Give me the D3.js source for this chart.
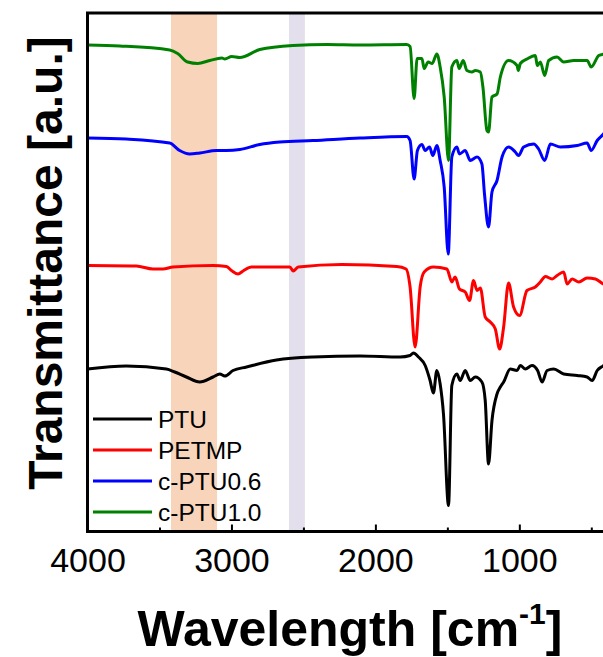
<!DOCTYPE html>
<html><head><meta charset="utf-8">
<script src="https://cdn.jsdelivr.net/npm/d3@7"></script>
<style>body{margin:0;background:#fff}svg{display:block}</style>
</head><body>
<script>
// ---- data (wavenumber in cm^-1, transmittance in a.u.) ----
const seriesNames = ["PTU", "PETMP", "c-PTU0.6", "c-PTU1.0"];
const seriesColors = ["#000000", "#ff0000", "#0000ff", "#008000"];

const ptuWave = [4000,3731,3452,3394,3313,3220,3128,3081,3046,2989,2895,2687,2432,2107,1828,1759,1736,1701,1654,1620,1597,1573,1550,1527,1492,1469,1434,1411,1376,1341,1306,1260,1237,1214,1190,1155,1132,1109,1063,1016,993,958,912,873,842,807,761,692,598,529,494,459,415,400];
const ptuT    = [32.5,33.1,32.5,31.9,30.9,29.9,30.9,31.5,31.1,32.2,32.9,34.3,34.9,35.1,34.9,35.2,35.7,34.9,33.2,30.2,27.7,32.2,29.5,23.5,5.2,29.2,31.5,30.2,32.2,30.2,30.9,29.9,26.2,13.5,22.2,27.5,28.9,29.9,32.5,32.2,33.2,32.5,33.2,32.2,29.9,32.2,32.5,31.5,31.2,30.9,30.2,32.2,33.2,33.6];

const petmpWave = [4000,3661,3545,3476,3406,3128,3035,3000,2954,2919,2861,2594,2571,2536,2234,1851,1787,1759,1724,1689,1661,1597,1503,1469,1446,1416,1376,1346,1318,1294,1271,1237,1202,1167,1137,1109,1075,1040,998,947,889,854,819,772,738,692,668,633,587,529,471,415,400];
const petmpT    = [53.2,53.1,52.5,52.5,52.9,53.2,53.0,52.2,51.5,52.1,52.9,52.9,52.1,52.9,53.4,53.0,52.5,48.9,36.9,48.9,51.9,52.9,52.5,49.9,50.9,48.5,47.9,46.2,50.2,48.2,48.7,42.9,41.9,40.5,36.5,40.9,49.7,44.9,43.2,48.2,48.9,49.9,51.0,50.5,51.2,51.9,49.5,50.5,49.9,50.7,50.5,49.5,49.4];

const cptu06Wave = [4000,3731,3429,3360,3290,3220,3104,3035,2942,2803,2664,2434,2107,1782,1759,1731,1708,1677,1654,1624,1601,1573,1550,1522,1494,1469,1434,1416,1376,1341,1294,1260,1242,1214,1190,1155,1120,1075,1028,1005,970,900,866,824,784,715,598,529,501,459,415,400];
const cptu06T    = [78.7,78.5,77.7,76.2,75.5,75.7,76.2,76.2,76.4,77.4,77.9,78.2,78.7,79.0,78.2,70.5,76.2,77.4,76.2,76.9,75.2,77.2,74.2,68.9,55.5,74.9,76.9,75.5,76.2,74.2,74.9,73.5,67.5,60.9,67.9,70.2,74.9,76.9,75.9,75.2,76.9,77.5,76.5,74.2,77.5,76.9,77.2,77.7,76.2,78.2,79.5,80.0];

const cptu10Wave = [4000,3777,3429,3374,3304,3234,3151,3067,3046,2998,2942,2803,2573,2336,2107,1782,1759,1731,1710,1677,1661,1633,1606,1573,1550,1522,1492,1469,1434,1418,1390,1364,1329,1306,1271,1253,1225,1214,1190,1155,1132,1075,1016,1007,993,947,889,875,854,824,796,738,692,622,529,501,448,415,400];
const cptu10T    = [97.3,97.1,96.3,95.6,93.9,93.6,94.2,94.7,94.5,95.0,94.8,96.4,97.2,97.4,97.3,97.4,97.0,86.6,94.6,94.6,92.6,93.9,93.6,95.5,92.9,86.9,74.2,92.9,94.2,92.6,94.2,92.2,91.9,92.2,91.9,88.9,80.2,79.9,86.9,87.5,90.9,94.2,93.2,92.2,93.6,94.5,95.2,93.2,93.9,91.2,94.2,94.9,93.9,94.2,94.2,92.9,95.2,95.5,95.8];

const highlightBands = [[3420, 3100, "#f7d4ba"], [2600, 2490, "#e3dfec"]];
const xTicksMajor = [4000, 3000, 2000, 1000];
const xTicksMinor = [3500, 2500, 1500, 500];
const xDomain = [4000, 400];
const yDomain = [0, 103.7];

// ---- drawing ----
const W = 603, H = 657;
const svg = d3.select("body").append("svg").attr("width", W).attr("height", H);
const x = d3.scaleLinear().domain(xDomain).range([87.5, 605.7]);
const y = d3.scaleLinear().domain(yDomain).range([531.5, 13]);
const font = "Arial, 'Liberation Sans', Helvetica, sans-serif";

// bands
svg.selectAll("rect.band").data(highlightBands).enter().append("rect")
  .attr("x", d => x(d[0])).attr("width", d => x(d[1]) - x(d[0]))
  .attr("y", y(yDomain[1])).attr("height", y(yDomain[0]) - y(yDomain[1]))
  .attr("fill", d => d[2]);

// lines
const series = [
  {w: ptuWave, t: ptuT}, {w: petmpWave, t: petmpT},
  {w: cptu06Wave, t: cptu06T}, {w: cptu10Wave, t: cptu10T}
];
const line = d3.line().x(d => x(d[0])).y(d => y(d[1])).curve(d3.curveMonotoneX);
svg.append("clipPath").attr("id", "clip").append("rect")
  .attr("x", x(4000)).attr("y", y(yDomain[1])).attr("width", x(400) - x(4000)).attr("height", y(0) - y(yDomain[1]));
series.forEach((s, i) => {
  svg.append("path").datum(s.w.map((w, k) => [w, s.t[k]]))
    .attr("d", line).attr("fill", "none").attr("stroke", seriesColors[i])
    .attr("stroke-width", 3).attr("stroke-linejoin", "round")
    .attr("clip-path", "url(#clip)");
});

// frame
svg.append("rect").attr("x", x(4000)).attr("y", y(yDomain[1]))
  .attr("width", x(400) - x(4000)).attr("height", y(0) - y(yDomain[1]))
  .attr("fill", "none").attr("stroke", "#000").attr("stroke-width", 3);

// x axis ticks (inward)
const xAxis = d3.axisBottom(x).tickValues(xTicksMajor).tickSize(-7).tickPadding(16).tickFormat(d3.format("d"));
const gx = svg.append("g").attr("transform", `translate(0,${y(0)})`).call(xAxis);
gx.select(".domain").remove();
gx.selectAll(".tick line").attr("stroke", "#000").attr("stroke-width", 2);
gx.selectAll(".tick text").attr("font-family", font).attr("font-size", 34).attr("fill", "#000");
const xAxisMinor = d3.axisBottom(x).tickValues(xTicksMinor).tickSize(-4).tickFormat("");
const gxm = svg.append("g").attr("transform", `translate(0,${y(0)})`).call(xAxisMinor);
gxm.select(".domain").remove();
gxm.selectAll(".tick line").attr("stroke", "#000").attr("stroke-width", 2);

// axis titles
const xt = svg.append("text").attr("x", 350).attr("y", 646).attr("text-anchor", "middle")
  .attr("font-family", font).attr("font-weight", "bold").attr("font-size", 50).attr("fill", "#000");
xt.append("tspan").text("Wavelength [cm");
xt.append("tspan").attr("font-size", 30).attr("dy", -22).text("-1");
xt.append("tspan").attr("dy", 22).text("]");

svg.append("text").attr("transform", "translate(62,263) rotate(-90)").attr("text-anchor", "middle")
  .attr("font-family", font).attr("font-weight", "bold").attr("font-size", 48).attr("fill", "#000")
  .text("Transmittance [a.u.]");

// legend
const lg = svg.append("g");
seriesNames.forEach((n, i) => {
  const cy = 419 + i * 31;
  lg.append("line").attr("x1", 93).attr("x2", 152).attr("y1", cy).attr("y2", cy)
    .attr("stroke", seriesColors[i]).attr("stroke-width", 2.8);
  lg.append("text").attr("x", 158).attr("y", cy + 8.5).attr("font-family", font)
    .attr("font-size", 24.5).attr("fill", "#000").text(n);
});
</script>
</body></html>
